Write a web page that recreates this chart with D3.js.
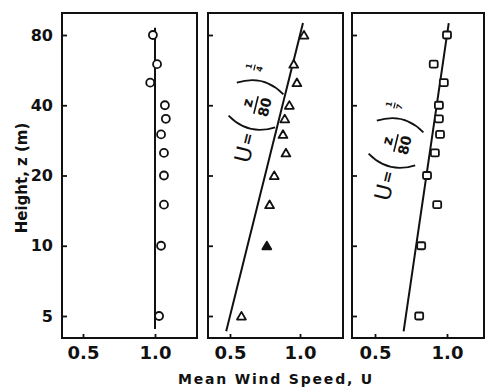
<!DOCTYPE html>
<html>
<head>
<meta charset="utf-8">
<script src="https://cdn.jsdelivr.net/npm/d3@7/dist/d3.min.js"></script>
<style>
  html, body { margin: 0; padding: 0; background: #fff; }
  svg { display: block; }
  text { font-family: "DejaVu Sans", sans-serif; font-weight: bold; fill: #111; }
</style>
</head>
<body>
<svg id="chart" width="486" height="388"></svg>
<script>
// ---- data ----
const heights = [80, 60, 50, 40, 35, 30, 25, 20, 15, 10, 5];
const speedsCircle = [0.98, 1.02, 0.955, 1.10, 1.11, 1.06, 1.09, 1.09, 1.09, 1.06, 1.04];
const speedsTriangle = [1.04, 0.94, 0.97, 0.90, 0.86, 0.845, 0.87, 0.775, 0.74, 0.72, 0.56];
const speedsSquare = [1.0, 0.88, 0.97, 0.925, 0.925, 0.935, 0.89, 0.825, 0.91, 0.78, 0.765];
const exponents = [0, 1/4, 1/7];
const exponentNum = ["", "1", "1"];
const exponentDen = ["", "4", "7"];
const lineHeights = [[4.4, 86], [4.3, 90], [4.3, 90]];
const yTicks = [5, 10, 20, 40, 80];
const xTicks = [0.5, 1.0];
const markers = ["circle", "triangle", "square"];
const seriesList = [speedsCircle, speedsTriangle, speedsSquare];

// ---- layout ----
const svg = d3.select("#chart");
const frameTop = 13, frameBottom = 338;
const panels = [
  {left: 62, right: 197, r0: 83, r1: 155},
  {left: 208, right: 343, r0: 230, r1: 300},
  {left: 352, right: 484, r0: 375, r1: 447}
];
const y = d3.scaleLog().domain([5, 80]).range([316, 35]);
const ink = "#111";

panels.forEach((p, i) => {
  const x = d3.scaleLog().domain([0.5, 1.0]).range([p.r0, p.r1]);
  const g = svg.append("g");

  g.append("rect").attr("x", p.left).attr("y", frameTop)
    .attr("width", p.right - p.left).attr("height", frameBottom - frameTop)
    .attr("fill", "none").attr("stroke", ink).attr("stroke-width", 2);

  const ya = g.append("g").attr("transform", `translate(${p.left},0)`)
    .call(d3.axisLeft(y).tickValues(yTicks).tickSize(-5).tickPadding(9)
      .tickFormat(i === 0 ? d3.format("d") : () => ""));
  ya.select(".domain").remove();
  ya.selectAll("line").attr("stroke", ink).attr("stroke-width", 1.8);
  ya.selectAll("text").style("font-size", "16px").attr("fill", ink);

  const xa = g.append("g").attr("transform", `translate(0,${frameBottom})`)
    .call(d3.axisBottom(x).tickValues(xTicks).tickSize(-4).tickPadding(8)
      .tickFormat(d3.format(".1f")));
  xa.select(".domain").remove();
  xa.selectAll("line").attr("stroke", ink).attr("stroke-width", 1.8);
  xa.selectAll("text").style("font-size", "18px").attr("fill", ink);

  const a = exponents[i];
  const lz = d3.range(0, 21).map(k => lineHeights[i][0] * Math.pow(lineHeights[i][1] / lineHeights[i][0], k / 20));
  g.append("path")
    .datum(lz)
    .attr("fill", "none").attr("stroke", ink).attr("stroke-width", 2)
    .attr("d", d3.line().x(z => x(Math.pow(z / 80, a))).y(z => y(z)));

  const vals = seriesList[i];
  const pts = heights.map((h, k) => ({z: h, u: vals[k]}));
  const m = markers[i];
  if (m === "circle") {
    g.selectAll("circle.pt").data(pts).join("circle")
      .attr("cx", d => x(d.u)).attr("cy", d => y(d.z)).attr("r", 4)
      .attr("fill", "#fff").attr("stroke", ink).attr("stroke-width", 1.8);
  } else if (m === "triangle") {
    const sym = d3.symbol().type(d3.symbolTriangle).size(34);
    g.selectAll("path.pt").data(pts).join("path")
      .attr("transform", d => `translate(${x(d.u)},${y(d.z) + 1})`)
      .attr("d", sym)
      .attr("fill", (d) => d.z === 10 ? ink : "#fff")
      .attr("stroke", ink).attr("stroke-width", 1.8).attr("stroke-linejoin", "round");
  } else {
    g.selectAll("rect.pt").data(pts).join("rect")
      .attr("x", d => x(d.u) - 4).attr("y", d => y(d.z) - 3.5)
      .attr("width", 8).attr("height", 7).attr("rx", 1.5)
      .attr("fill", "#fff").attr("stroke", ink).attr("stroke-width", 1.8);
  }
});

// ---- annotations: U = (z/80)^n, rotated ----
const annos = [
  {panel: 1, cx: 256, cy: 105},
  {panel: 2, cx: 396, cy: 143}
];
annos.forEach(an => {
  const g = svg.append("g").attr("transform", `translate(${an.cx},${an.cy}) rotate(-76)`);
  g.append("text").attr("x", -51).attr("y", 0).attr("text-anchor", "middle")
    .attr("dominant-baseline", "central").style("font-size", "22px").style("font-weight", "normal")
    .text("U");
  g.append("text").attr("x", -35).attr("y", 0).attr("text-anchor", "middle")
    .attr("dominant-baseline", "central").style("font-size", "15px")
    .text("=");
  g.append("path").attr("d", "M-17,-24 Q-32,0 -17,24").attr("fill", "none")
    .attr("stroke", ink).attr("stroke-width", 1.8);
  g.append("path").attr("d", "M17,-24 Q32,0 17,24").attr("fill", "none")
    .attr("stroke", ink).attr("stroke-width", 1.8);
  g.append("text").attr("x", 0).attr("y", -9).attr("text-anchor", "middle")
    .attr("dominant-baseline", "central").style("font-size", "14px").text("z");
  g.append("line").attr("x1", -9).attr("x2", 9).attr("y1", 0).attr("y2", 0)
    .attr("stroke", ink).attr("stroke-width", 1.6);
  g.append("text").attr("x", 0).attr("y", 9).attr("text-anchor", "middle")
    .attr("dominant-baseline", "central").style("font-size", "14px").text("80");
  // stacked exponent
  g.append("text").attr("x", 36).attr("y", -16).attr("text-anchor", "middle")
    .attr("dominant-baseline", "central").style("font-size", "8px")
    .text(exponentNum[an.panel]);
  g.append("line").attr("x1", 33).attr("x2", 39).attr("y1", -10.5).attr("y2", -10.5)
    .attr("stroke", ink).attr("stroke-width", 1.2);
  g.append("text").attr("x", 36).attr("y", -5).attr("text-anchor", "middle")
    .attr("dominant-baseline", "central").style("font-size", "8px")
    .text(exponentDen[an.panel]);
});

// ---- axis titles ----
svg.append("text").attr("transform", "translate(27,178) rotate(-90)")
  .attr("text-anchor", "middle").style("font-size", "15px")
  .text("Height, z (m)");
svg.append("text").attr("x", 276).attr("y", 384)
  .attr("text-anchor", "middle").style("font-size", "14px").style("letter-spacing", "1.8px")
  .text("Mean Wind Speed, U");
</script>
</body>
</html>
